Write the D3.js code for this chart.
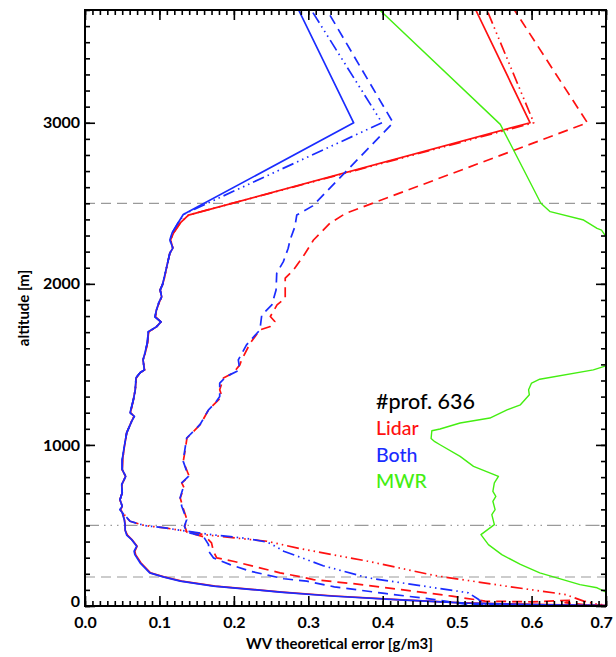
<!DOCTYPE html>
<html><head><meta charset="utf-8">
<script src="https://cdn.jsdelivr.net/npm/d3@7/dist/d3.min.js"></script>
<style>
html,body{margin:0;padding:0;background:#fff;}
svg{display:block;}
</style></head>
<body>
<svg id="chart" width="616" height="657"></svg>
<script>
// ---------- DATA : [error (g/m3), altitude (m)] ----------
const xTickValues = [0, 0.1, 0.2, 0.3, 0.4, 0.5, 0.6, 0.7];
const yTickValues = [0, 1000, 2000, 3000];
const refLevelsDashed = [180, 2500];
const refLevelsDotDash = [500];
const legendTitle = "#prof. 636";
const legendNames = ["Lidar", "Both", "MWR"];

const lidarSolid = [[0.76,0],[0.66,6],[0.56,14],[0.50,21],[0.42,39],[0.335,62],[0.265,86],[0.228,102],[0.175,123],[0.13,154],[0.106,181],[0.088,206],[0.075,268],[0.068,319],[0.067,340],[0.070,371],[0.063,412],[0.057,440],[0.054,470],[0.054,505],[0.053,536],[0.050,580],[0.048,598],[0.050,619],[0.047,660],[0.050,703],[0.0495,753],[0.0545,805],[0.050,846],[0.0505,908],[0.053,991],[0.056,1075],[0.0625,1146],[0.066,1177],[0.061,1200],[0.063,1239],[0.065,1280],[0.0675,1342],[0.069,1417],[0.074,1448],[0.080,1466],[0.078,1528],[0.081,1572],[0.084,1634],[0.0855,1702],[0.096,1733],[0.102,1764],[0.0945,1795],[0.096,1838],[0.100,1888],[0.103,1919],[0.101,1962],[0.104,1993],[0.107,2043],[0.111,2130],[0.114,2191],[0.118,2222],[0.115,2272],[0.119,2316],[0.128,2378],[0.139,2427],[0.598,3000],[0.525,3700]];
const lidarDashed = [[0.76,0],[0.68,5],[0.645,20],[0.655,36],[0.6,26],[0.5376,30],[0.493,61],[0.425,102],[0.3575,140],[0.307,164],[0.29,181],[0.262,206],[0.226,247],[0.199,278],[0.177,299],[0.1725,340],[0.170,392],[0.163,425],[0.137,458],[0.134,495],[0.137,536],[0.131,619],[0.128,671],[0.133,735],[0.130,764],[0.140,805],[0.132,898],[0.134,950],[0.137,1043],[0.146,1084],[0.155,1127],[0.166,1218],[0.175,1260],[0.184,1301],[0.181,1342],[0.186,1415],[0.199,1446],[0.208,1497],[0.2105,1528],[0.222,1632],[0.235,1714],[0.249,1735],[0.255,1766],[0.249,1797],[0.258,1869],[0.269,1911],[0.269,2035],[0.280,2086],[0.293,2169],[0.307,2272],[0.329,2376],[0.35,2437],[0.675,3000],[0.577,3700]];
const lidarDotDash = [[0.76,0],[0.69,9],[0.67,30],[0.646,71],[0.56,127],[0.47,189],[0.38,278],[0.29,355],[0.2446,402],[0.217,415],[0.16,443],[0.134,466],[0.1075,485],[0.0806,499],[0.0605,526],[0.0528,567],[0.050,580],[0.048,598],[0.050,619],[0.047,660],[0.050,703],[0.0495,753],[0.0545,805],[0.050,846],[0.0505,908],[0.053,991],[0.056,1075],[0.0625,1146],[0.066,1177],[0.061,1200],[0.063,1239],[0.065,1280],[0.0675,1342],[0.069,1417],[0.074,1448],[0.080,1466],[0.078,1528],[0.081,1572],[0.084,1634],[0.0855,1702],[0.096,1733],[0.102,1764],[0.0945,1795],[0.096,1838],[0.100,1888],[0.103,1919],[0.101,1962],[0.104,1993],[0.107,2043],[0.111,2130],[0.114,2191],[0.118,2222],[0.115,2272],[0.119,2316],[0.128,2378],[0.139,2427],[0.603,3000],[0.540,3700]];

const bothSolid = [[0.75,0],[0.62,7],[0.513,18],[0.423,38],[0.33,62],[0.262,86],[0.225,102],[0.1725,123],[0.128,154],[0.105,181],[0.087,206],[0.074,268],[0.067,319],[0.066,340],[0.0695,371],[0.0627,412],[0.056,440],[0.054,470],[0.0537,505],[0.0528,536],[0.050,580],[0.047,598],[0.050,619],[0.047,660],[0.050,703],[0.0493,753],[0.0547,805],[0.050,846],[0.050,908],[0.0528,991],[0.056,1075],[0.0627,1146],[0.0663,1177],[0.0605,1200],[0.0627,1239],[0.065,1280],[0.0675,1342],[0.0685,1417],[0.074,1448],[0.0797,1466],[0.078,1528],[0.0806,1572],[0.0837,1634],[0.085,1702],[0.096,1733],[0.102,1764],[0.094,1795],[0.096,1838],[0.0995,1888],[0.103,1919],[0.101,1962],[0.104,1993],[0.1066,2043],[0.111,2130],[0.114,2191],[0.118,2222],[0.114,2272],[0.117,2316],[0.125,2378],[0.132,2430],[0.361,3000],[0.287,3700]];
const bothDashed = [[0.75,0],[0.6,4],[0.515,9],[0.47,40],[0.4027,78],[0.335,119],[0.298,154],[0.2675,169],[0.222,216],[0.195,257],[0.1725,299],[0.166,340],[0.166,381],[0.159,433],[0.137,458],[0.1335,495],[0.1366,536],[0.130,619],[0.1277,671],[0.132,735],[0.130,764],[0.139,805],[0.132,898],[0.1335,950],[0.1366,1043],[0.1456,1084],[0.1546,1127],[0.166,1218],[0.175,1260],[0.181,1301],[0.181,1384],[0.190,1425],[0.208,1466],[0.206,1528],[0.217,1621],[0.235,1714],[0.2375,1807],[0.251,1869],[0.2567,1962],[0.2576,2066],[0.2665,2138],[0.273,2221],[0.2755,2272],[0.282,2355],[0.2845,2427],[0.306,2484],[0.414,3000],[0.325,3700]];
const bothDotDash = [[0.75,0],[0.6,4],[0.535,12],[0.529,40],[0.515,82],[0.47,113],[0.38,175],[0.32,250],[0.298,288],[0.267,340],[0.258,365],[0.245,396],[0.217,420],[0.175,440],[0.134,466],[0.1075,485],[0.0806,499],[0.0605,526],[0.0528,567],[0.050,580],[0.047,598],[0.050,619],[0.047,660],[0.050,703],[0.0493,753],[0.0547,805],[0.050,846],[0.050,908],[0.0528,991],[0.056,1075],[0.0627,1146],[0.0663,1177],[0.0605,1200],[0.0627,1239],[0.065,1280],[0.0675,1342],[0.0685,1417],[0.074,1448],[0.0797,1466],[0.078,1528],[0.0806,1572],[0.0837,1634],[0.085,1702],[0.096,1733],[0.102,1764],[0.094,1795],[0.096,1838],[0.0995,1888],[0.103,1919],[0.101,1962],[0.104,1993],[0.1066,2043],[0.111,2130],[0.114,2191],[0.118,2222],[0.114,2272],[0.117,2316],[0.125,2378],[0.134,2435],[0.399,3000],[0.304,3700]];

const mwrSolid = [[0.78,40],[0.70,86],[0.688,113],[0.665,133],[0.634,175],[0.611,206],[0.585,258],[0.560,319],[0.542,381],[0.532,443],[0.550,505],[0.5466,567],[0.551,598],[0.548,650],[0.552,681],[0.548,712],[0.550,764],[0.5555,805],[0.522,867],[0.504,929],[0.477,1001],[0.47,1020],[0.465,1040],[0.466,1088],[0.477,1099],[0.504,1136],[0.544,1167],[0.567,1218],[0.585,1249],[0.591,1280],[0.597,1311],[0.596,1342],[0.600,1384],[0.611,1408],[0.683,1466],[0.70,1491],[0.76,1520],[0.76,2260],[0.70,2293],[0.694,2334],[0.688,2344],[0.670,2396],[0.625,2448],[0.6125,2500],[0.558,2990],[0.396,3700]];

// ---------- LAYOUT ----------
const L = 85, R = 606, T = 10, B = 606;
const svg = d3.select("#chart");
const x = d3.scaleLinear().domain([0, 0.7]).range([L, R]);
const y = d3.scaleLinear().domain([0, 3700]).range([B, T]);

const FONT = "Lato, 'DejaVu Sans', sans-serif";

svg.append("defs").append("clipPath").attr("id","plotclip")
  .append("rect").attr("x",L).attr("y",T).attr("width",R-L).attr("height",B-T);

// reference lines
const refG = svg.append("g").attr("clip-path","url(#plotclip)");
refLevelsDashed.forEach(a => {
  refG.append("line").attr("x1",L).attr("x2",R).attr("y1",y(a)).attr("y2",y(a))
    .attr("stroke","#9a9a9a").attr("stroke-width",1.2).attr("stroke-dasharray","10,6");
});
refLevelsDotDash.forEach(a => {
  refG.append("line").attr("x1",L).attr("x2",R).attr("y1",y(a)).attr("y2",y(a))
    .attr("stroke","#9a9a9a").attr("stroke-width",1.2).attr("stroke-dasharray","14,5,1.5,5,1.5,5,1.5,5");
});

// series
const line = d3.line().x(d => x(d[0])).y(d => y(d[1]));
const RED = "#ff1010", BLUE = "#1a2cff", GREEN = "#44ee11";
const DASH = "10,6", DDD = "12,4,1.5,4,1.5,4,1.5,4";
const series = [
  {data: lidarDotDash, color: RED, dash: DDD},
  {data: lidarDashed, color: RED, dash: DASH},
  {data: lidarSolid, color: RED, dash: null},
  {data: bothDotDash, color: BLUE, dash: DDD},
  {data: bothDashed, color: BLUE, dash: DASH},
  {data: bothSolid, color: BLUE, dash: null},
  {data: mwrSolid, color: GREEN, dash: null, w: 1.4}
];
const lineG = svg.append("g").attr("clip-path","url(#plotclip)");
series.forEach(s => {
  lineG.append("path").attr("d", line(s.data)).attr("fill","none")
    .attr("stroke", s.color).attr("stroke-width", s.w || 1.7)
    .attr("stroke-linejoin","round")
    .attr("stroke-dasharray", s.dash);
});

// axes
const xMinor = d3.range(0, 0.7001, 0.01);
const yMinor = d3.range(0, 3701, 100);
function styleAxis(g){
  g.select(".domain").remove();
  g.selectAll(".tick line").attr("stroke","#000").attr("stroke-width",1.6);
  g.selectAll("text").attr("font-family",FONT).attr("font-weight","700").attr("font-size","16px").attr("fill","#000");
}
svg.append("g").attr("transform",`translate(0,${B})`)
  .call(d3.axisBottom(x).tickValues(xMinor).tickSize(-5).tickFormat(""))
  .call(styleAxis);
const xLab = svg.append("g").attr("transform",`translate(0,${B})`)
  .call(d3.axisBottom(x).tickValues(xTickValues).tickSize(-10).tickPadding(11).tickFormat(d3.format(".1f")))
  .call(styleAxis);
// keep the last label inside the picture
xLab.selectAll(".tick text").filter(d => d === 0.7).attr("dx", "-0.3em");
svg.append("g").attr("transform",`translate(0,${T})`)
  .call(d3.axisTop(x).tickValues(xMinor).tickSize(-5).tickFormat(""))
  .call(styleAxis);
svg.append("g").attr("transform",`translate(0,${T})`)
  .call(d3.axisTop(x).tickValues(xTickValues).tickSize(-10).tickFormat(""))
  .call(styleAxis);
svg.append("g").attr("transform",`translate(${L},0)`)
  .call(d3.axisLeft(y).tickValues(yMinor).tickSize(-5).tickFormat(""))
  .call(styleAxis);
const yLab = svg.append("g").attr("transform",`translate(${L},0)`)
  .call(d3.axisLeft(y).tickValues(yTickValues).tickSize(-10).tickPadding(5).tickFormat(d3.format("d")))
  .call(styleAxis);
yLab.selectAll(".tick text").filter(d => d === 0).attr("dy", "0.05em");
svg.append("g").attr("transform",`translate(${R},0)`)
  .call(d3.axisRight(y).tickValues(yMinor).tickSize(-5).tickFormat(""))
  .call(styleAxis);
svg.append("g").attr("transform",`translate(${R},0)`)
  .call(d3.axisRight(y).tickValues(yTickValues).tickSize(-10).tickFormat(""))
  .call(styleAxis);

// frame
svg.append("rect").attr("x",L).attr("y",T).attr("width",R-L).attr("height",B-T)
  .attr("fill","none").attr("stroke","#000").attr("stroke-width",2);

// axis titles
svg.append("text").attr("x",(L+R)/2 - 6).attr("y",649).attr("text-anchor","middle")
  .attr("font-family",FONT).attr("font-weight","700").attr("font-size","15px")
  .text("WV theoretical error [g/m3]");
svg.append("text").attr("transform",`translate(29,${(T+B)/2}) rotate(-90)`).attr("text-anchor","middle")
  .attr("font-family",FONT).attr("font-weight","700").attr("font-size","15px")
  .text("altitude [m]");

// legend
const legX = 376;
svg.append("text").attr("x",legX).attr("y",409).attr("font-family",FONT).attr("font-size","21.5px")
  .attr("font-weight","500").attr("fill","#000").text(legendTitle);
const legColors = [RED, BLUE, GREEN];
legendNames.forEach((n,i) => {
  svg.append("text").attr("x",legX).attr("y",435 + i*26.7).attr("font-family",FONT).attr("font-size","19.5px")
    .attr("font-weight","500").attr("fill",legColors[i]).text(n);
});
</script>
</body></html>
